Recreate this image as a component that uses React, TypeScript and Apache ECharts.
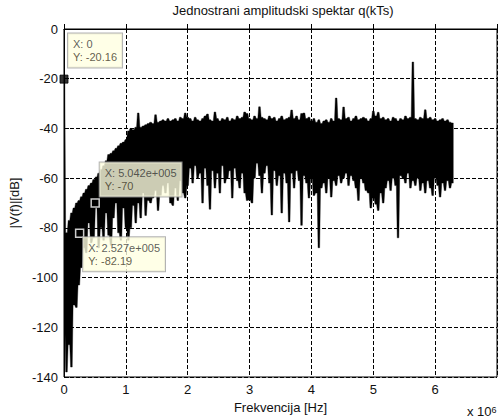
import React, { useEffect, useRef } from "react";
import * as echarts from "echarts";

const titleText = "Jednostrani amplitudski spektar q(kTs)";
const xName = "Frekvencija [Hz]";
const yName = "|V(f)|[dB]";
const xTickLabels = ["0", "1", "2", "3", "4", "5", "6"];
const yTickLabels = ["0", "-20", "-40", "-60", "-80", "-100", "-120", "-140"];

// DC sample (top and bottom of the first column)
const dcFreq = 0;
const dcUpperDb = -20.16;
const dcLowerDb = -118;
// spectrum columns every 0.04 (x 10^6 Hz) from 0.04 to 6.28: top and bottom of each column
const sampleStep = 0.04;
const upperDb = [
  -82, -77, -74, -72, -70, -69, -67.5, -66, -64.5, -63,
  -62, -60.5, -59.5, -58, -56.5, -55, -53, -50.5, -50, -49,
  -48, -47, -46, -45.5, -44.5, -41, -40, -40.5, -39.5, -33.8,
  -39.5, -39, -38.5, -38, -37.5, -38, -34.5, -37.5, -37, -36.5,
  -37, -36, -37, -36.5, -36, -37, -35.5, -36, -33.8, -35.5,
  -36, -37, -35.5, -36.5, -37, -36, -35, -34.2, -36.5, -37,
  -33.4, -36, -37, -36, -36.5, -35.5, -37, -36, -36.5, -35,
  -36, -35.5, -33.4, -34, -36, -36.5, -35, -36, -31.3, -35.5,
  -36, -36.5, -35, -36, -35.5, -37, -36, -35, -36.5, -36,
  -35.5, -32.6, -36, -35, -36.5, -34, -33.8, -36, -35.5, -37,
  -36, -37.5, -36.5, -38, -37, -36.5, -37.5, -36, -37, -27.8,
  -36, -36.5, -31.4, -36, -35.5, -37, -36, -35, -36.5, -36,
  -35.5, -36, -37, -36, -33, -35, -33.5, -36, -35.5, -36.5,
  -36, -37, -35.5, -36, -37, -36, -36.5, -35, -36, -35.5,
  -13.3, -36, -36.5, -35.5, -36, -32.5, -36, -35.5, -36.5, -36,
  -37, -36.5, -36, -37, -36.5, -37.5, -37.8,
];
const lowerDb = [
  -138, -127, -136, -111, -112, -103, -96, -88, -90, -78,
  -86, -84, -72, -88, -80, -85, -74, -83, -87, -76,
  -70, -82, -85, -72, -80, -85, -80, -71, -78, -70,
  -76, -66, -75, -69, -70, -68, -65, -73, -67, -63,
  -66, -62, -70, -71, -64, -69, -61, -66, -68, -63,
  -56, -62, -55, -60, -58, -70, -56, -63, -72.5, -57,
  -64, -58, -66, -55, -62, -60, -57, -68, -56, -61,
  -64, -58, -66, -69, -68.8, -70, -60, -54, -59, -66,
  -58, -55, -62, -74.8, -57, -63, -59, -74, -58, -62,
  -77.6, -58, -64, -57, -61, -79, -59, -62, -68, -60,
  -67, -66, -88, -64, -62, -66, -60, -67.6, -61, -63,
  -59, -62, -60, -58, -63, -59, -61, -64, -69, -60,
  -62, -65, -66, -72, -68, -70.5, -73, -66, -70, -64,
  -61, -65, -60, -63, -84, -59, -60, -62, -58, -64,
  -61, -63, -60, -65, -62, -66, -61, -64, -67, -60,
  -63, -67.6, -62, -65, -61, -64, -62,
];

// data tips
const tipFreq = [0, 0.5042, 0.2527];
const tipDb = [-20.16, -70, -82.19];
const tipXText = ["X: 0", "X: 5.042e+005", "X: 2.527e+005"];
const tipYText = ["Y: -20.16", "Y: -70", "Y: -82.19"];

const FONT = "'Liberation Sans', Arial, sans-serif";

export default function App() {
  const ref = useRef<HTMLDivElement>(null);
  useEffect(() => {
    if (!ref.current) return;
    const chart = echarts.init(ref.current, undefined, { renderer: "svg" });

    const columns: number[][] = [[dcFreq, dcUpperDb, dcLowerDb]];
    for (let i = 0; i < upperDb.length; i++) {
      columns.push([(i + 1) * sampleStep, upperDb[i], lowerDb[i]]);
    }

    const tipOffsets = [
      [4, -28.5],
      [4.5, -23.5],
      [3.5, 21],
    ];
    const tipData = tipFreq.map((f, i) => ({
      value: [f, tipDb[i]],
      itemStyle: i === 0 ? { color: "#000", borderColor: "#000", borderWidth: 1 } : undefined,
      label: {
        show: true,
        position: "inside",
        align: "left",
        verticalAlign: "middle",
        offset: tipOffsets[i],
        formatter: `{x|${tipXText[i]}}\n{y|${tipYText[i]}}`,
        backgroundColor: "#ffffe1",
        borderColor: "#a0a0a0",
        borderWidth: 1,
        padding: [4, 5, 4, 5],
        rich: {
          x: { fontSize: 11, lineHeight: 13, color: "#333", fontFamily: FONT },
          y: { fontSize: 11, lineHeight: 13, color: "#3a3322", fontFamily: FONT },
        },
      },
    }));

    // one filled outline through all columns (tops left->right, bottoms right->left)
    const renderSpectrum = (params: any, api: any) => {
      if (params.dataIndex !== 0) return null;
      const half = 0.8;
      const topPts: number[][] = [];
      const botPts: number[][] = [];
      for (let i = 0; i < columns.length; i++) {
        const c = columns[i];
        const t = api.coord([c[0], c[1]]);
        const b = api.coord([c[0], c[2]]);
        topPts.push([t[0] - half, t[1]], [t[0] + half, t[1]]);
        botPts.push([b[0] - half, b[1]], [b[0] + half, b[1]]);
      }
      botPts.reverse();
      return {
        type: "polygon",
        shape: { points: topPts.concat(botPts) },
        style: { fill: "#000", stroke: "#000", lineWidth: 0.4 },
      };
    };

    chart.setOption({
      animation: false,
      backgroundColor: "#fff",
      title: {
        text: titleText,
        left: 283,
        top: 4,
        textAlign: "center",
        padding: 0,
        textStyle: { fontSize: 13, fontWeight: "normal", color: "#111", fontFamily: FONT },
      },
      grid: {
        left: 64,
        top: 29,
        right: -5,
        bottom: 42,
        show: true,
        borderColor: "#000",
        borderWidth: 1,
        backgroundColor: "transparent",
      },
      xAxis: {
        type: "value",
        min: 0,
        max: 7,
        interval: 1,
        name: xName,
        nameLocation: "middle",
        nameGap: 23,
        nameTextStyle: { fontSize: 13, color: "#111", fontFamily: FONT },
        axisLine: { show: true, lineStyle: { color: "#000", width: 1 } },
        axisTick: { show: true, inside: true, length: 5, lineStyle: { color: "#000" } },
        axisLabel: {
          margin: 6,
          fontSize: 13,
          color: "#111",
          fontFamily: FONT,
          formatter: (v: number) => (xTickLabels[Math.round(v)] !== undefined ? xTickLabels[Math.round(v)] : ""),
        },
        splitLine: { show: true, lineStyle: { color: "#000", width: 1, type: [4, 2] } },
      },
      yAxis: {
        type: "value",
        min: -140,
        max: 0,
        interval: 20,
        name: yName,
        nameLocation: "middle",
        nameGap: 39,
        nameRotate: 90,
        nameTextStyle: { fontSize: 13, color: "#111", fontFamily: FONT },
        axisLine: { show: true, lineStyle: { color: "#000", width: 1 } },
        axisTick: { show: true, inside: true, length: 5, lineStyle: { color: "#000" } },
        axisLabel: {
          margin: 6,
          fontSize: 13,
          color: "#111",
          fontFamily: FONT,
          formatter: (v: number) => yTickLabels[Math.round(-v / 20)] ?? "",
        },
        splitLine: { show: true, lineStyle: { color: "#000", width: 1, type: [4, 2] } },
      },
      series: [
        {
          type: "custom",
          data: columns,
          encode: { x: 0, y: [1, 2] },
          clip: true,
          z: 2,
          renderItem: renderSpectrum,
        },
        {
          type: "scatter",
          data: tipData,
          symbol: "rect",
          symbolSize: 8,
          clip: false,
          itemStyle: { color: "#000", borderColor: "#fff", borderWidth: 1.5 },
          z: 5,
        },
      ],
      graphic: [
        {
          type: "text",
          left: 467,
          top: 405,
          style: {
            text: "x 10{s|6}",
            fontSize: 13,
            fill: "#111",
            fontFamily: FONT,
            rich: { s: { fontSize: 9, verticalAlign: "top", fill: "#111" } },
          },
        },
      ],
    });
    return () => chart.dispose();
  }, []);
  return (
    <div
      ref={ref}
      style={{ position: "fixed", left: 0, top: 0, width: 500, height: 419, background: "#fff" }}
    />
  );
}
